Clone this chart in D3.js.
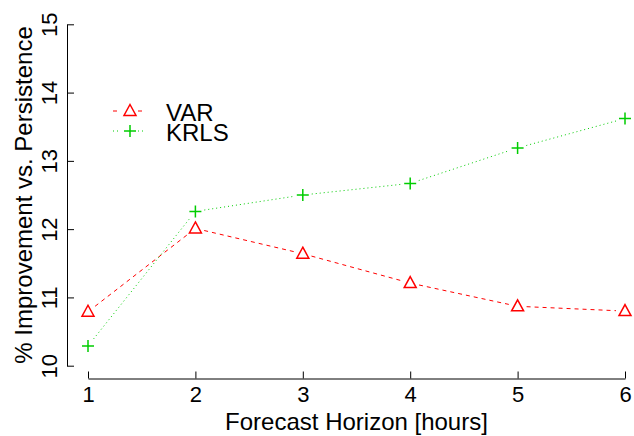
<!DOCTYPE html>
<html>
<head>
<meta charset="utf-8">
<script src="https://cdn.jsdelivr.net/npm/d3@7"></script>
<style>
  html, body { margin: 0; padding: 0; background: #fff; }
  svg { display: block; font-family: "Liberation Sans", Arial, Helvetica, sans-serif; }
</style>
</head>
<body>
<svg id="chart" width="634" height="436"></svg>
<script>
const horizons = [1, 2, 3, 4, 5, 6];
const varValues = [10.79, 12.01, 11.64, 11.21, 10.87, 10.80];
const krlsValues = [10.29, 12.26, 12.50, 12.67, 13.19, 13.62];
const xTicks = [1, 2, 3, 4, 5, 6];
const yTicks = [10, 11, 12, 13, 14, 15];
const seriesNames = ["VAR", "KRLS"];

const svg = d3.select("#chart");
const x = d3.scaleLinear().domain([1, 6]).range([88, 625]);
const y = d3.scaleLinear().domain([10, 15]).range([365.7, 24.3]);
const yAxisX = 67;
const xAxisY = 378.5;

// Y axis (ticks pointing inward)
const gy = svg.append("g")
  .attr("transform", `translate(${yAxisX},0)`)
  .call(d3.axisLeft(y).tickValues(yTicks).tickSizeInner(-7).tickSizeOuter(0).tickFormat(d3.format("d")));
gy.select(".domain").attr("stroke", "#000").attr("stroke-width", 1);
gy.selectAll(".tick line").attr("stroke", "#000");
gy.selectAll(".tick text")
  .attr("transform", "rotate(-90)")
  .attr("x", 0).attr("y", -10).attr("dy", 0)
  .attr("text-anchor", "middle")
  .attr("fill", "#000")
  .style("font-size", "22px")
  .style("font-family", "Liberation Sans, Arial, sans-serif");

// X axis (ticks pointing inward)
const gx = svg.append("g")
  .attr("transform", `translate(0,${xAxisY})`)
  .call(d3.axisBottom(x).tickValues(xTicks).tickSizeInner(-7).tickSizeOuter(0).tickFormat(d3.format("d")));
gx.select(".domain").attr("stroke", "#000").attr("stroke-width", 1);
gx.selectAll(".tick line").attr("stroke", "#000");
gx.selectAll(".tick text")
  .attr("y", 23.5).attr("dy", 0)
  .attr("fill", "#000")
  .style("font-size", "22px")
  .style("font-family", "Liberation Sans, Arial, sans-serif");

// Axis titles
svg.append("text")
  .attr("x", (x(1) + x(6)) / 2).attr("y", 430)
  .attr("text-anchor", "middle")
  .style("font-size", "24px")
  .text("Forecast Horizon [hours]");
svg.append("text")
  .attr("transform", `translate(32,${(y(10) + y(15)) / 2}) rotate(-90)`)
  .attr("text-anchor", "middle")
  .style("font-size", "24px")
  .text("% Improvement vs. Persistence");

// Lines with gaps around points (type "b")
const gap = 9;
function segments(vals) {
  const segs = [];
  for (let i = 0; i < vals.length - 1; i++) {
    const x1 = x(horizons[i]), y1 = y(vals[i]);
    const x2 = x(horizons[i + 1]), y2 = y(vals[i + 1]);
    const len = Math.hypot(x2 - x1, y2 - y1);
    const ux = (x2 - x1) / len, uy = (y2 - y1) / len;
    segs.push([x1 + ux * gap, y1 + uy * gap, x2 - ux * gap, y2 - uy * gap]);
  }
  return segs;
}

const RED = "#ff0000";
const GREEN = "#00cd00";

svg.append("g").selectAll("line").data(segments(varValues)).join("line")
  .attr("x1", d => d[0]).attr("y1", d => d[1]).attr("x2", d => d[2]).attr("y2", d => d[3])
  .attr("stroke", RED).attr("stroke-width", 1).attr("stroke-dasharray", "4,4");
svg.append("g").selectAll("line").data(segments(krlsValues)).join("line")
  .attr("x1", d => d[0]).attr("y1", d => d[1]).attr("x2", d => d[2]).attr("y2", d => d[3])
  .attr("stroke", GREEN).attr("stroke-width", 1).attr("stroke-dasharray", "1,3");

const triPath = "M0,-6.5L6,4.5L-6,4.5Z";
const plusPath = "M-6,0L6,0M0,-6L0,6";

svg.append("g").selectAll("path").data(varValues).join("path")
  .attr("transform", (d, i) => `translate(${x(horizons[i])},${y(d)})`)
  .attr("d", triPath).attr("fill", "none").attr("stroke", RED).attr("stroke-width", 1.5);
svg.append("g").selectAll("path").data(krlsValues).join("path")
  .attr("transform", (d, i) => `translate(${x(horizons[i])},${y(d)})`)
  .attr("d", plusPath).attr("fill", "none").attr("stroke", GREEN).attr("stroke-width", 1.5);

// Legend
const legend = svg.append("g");
const legendRows = [
  { name: seriesNames[0], color: RED, dash: "4,4", marker: triPath, cy: 111 },
  { name: seriesNames[1], color: GREEN, dash: "1,3", marker: plusPath, cy: 131 }
];
legendRows.forEach(r => {
  legend.append("line").attr("x1", 113).attr("x2", 121).attr("y1", r.cy).attr("y2", r.cy)
    .attr("stroke", r.color).attr("stroke-dasharray", r.dash);
  legend.append("line").attr("x1", 138).attr("x2", 146).attr("y1", r.cy).attr("y2", r.cy)
    .attr("stroke", r.color).attr("stroke-dasharray", r.dash);
  legend.append("path").attr("transform", `translate(130,${r.cy})`).attr("d", r.marker)
    .attr("fill", "none").attr("stroke", r.color).attr("stroke-width", 1.5);
  legend.append("text").attr("x", 166).attr("y", r.cy + 9.5)
    .style("font-size", "24px").text(r.name);
});
</script>
</body>
</html>
